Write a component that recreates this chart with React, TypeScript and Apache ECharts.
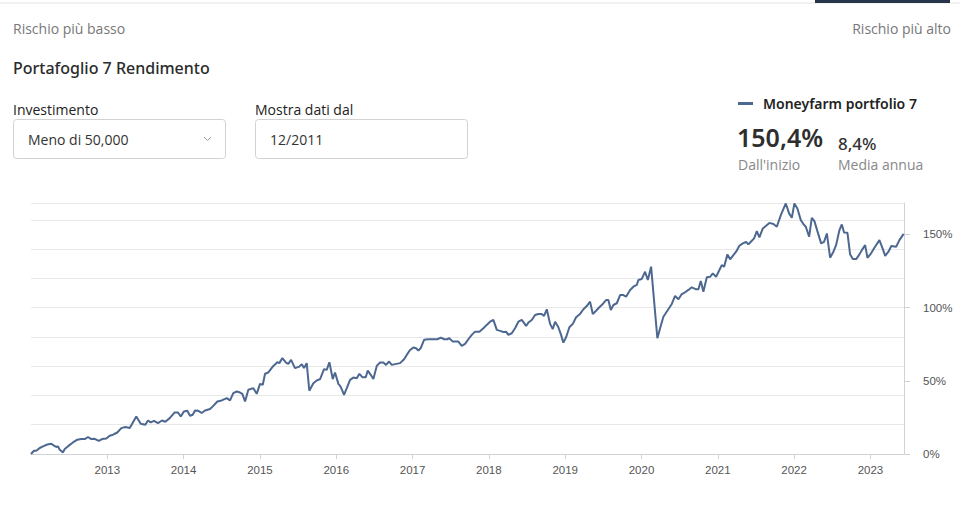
import React, { useEffect, useRef } from "react";
import * as echarts from "echarts";

// Time positions as decimal years
const timeYears: number[] = [
  2012.0, 2012.039, 2012.069, 2012.114, 2012.157, 2012.214, 2012.266, 2012.301, 2012.332, 2012.354,
  2012.376, 2012.419, 2012.442, 2012.494, 2012.55, 2012.607, 2012.659, 2012.704, 2012.747, 2012.79,
  2012.835, 2012.887, 2012.931, 2012.987, 2013.031, 2013.075, 2013.131, 2013.183, 2013.236, 2013.294,
  2013.38, 2013.438, 2013.498, 2013.533, 2013.569, 2013.612, 2013.664, 2013.717, 2013.76, 2013.818,
  2013.883, 2013.927, 2013.962, 2014.005, 2014.048, 2014.084, 2014.119, 2014.149, 2014.193, 2014.237,
  2014.28, 2014.346, 2014.389, 2014.442, 2014.499, 2014.565, 2014.608, 2014.651, 2014.696, 2014.739,
  2014.769, 2014.805, 2014.848, 2014.914, 2014.958, 2015.001, 2015.037, 2015.067, 2015.11, 2015.176,
  2015.228, 2015.254, 2015.294, 2015.342, 2015.372, 2015.408, 2015.46, 2015.516, 2015.548, 2015.578,
  2015.613, 2015.647, 2015.7, 2015.744, 2015.788, 2015.84, 2015.875, 2015.91, 2015.954, 2015.984,
  2016.028, 2016.05, 2016.072, 2016.102, 2016.138, 2016.181, 2016.224, 2016.269, 2016.303, 2016.342,
  2016.387, 2016.413, 2016.452, 2016.486, 2016.531, 2016.574, 2016.617, 2016.653, 2016.692, 2016.727,
  2016.771, 2016.836, 2016.889, 2016.924, 2016.967, 2017.01, 2017.046, 2017.076, 2017.107, 2017.151,
  2017.207, 2017.273, 2017.325, 2017.37, 2017.413, 2017.456, 2017.482, 2017.527, 2017.57, 2017.6,
  2017.645, 2017.688, 2017.731, 2017.776, 2017.819, 2017.876, 2017.928, 2017.972, 2018.016, 2018.059,
  2018.104, 2018.147, 2018.19, 2018.225, 2018.256, 2018.3, 2018.343, 2018.387, 2018.431, 2018.488,
  2018.518, 2018.562, 2018.606, 2018.649, 2018.693, 2018.723, 2018.759, 2018.802, 2018.837, 2018.868,
  2018.911, 2018.946, 2018.976, 2019.012, 2019.055, 2019.1, 2019.143, 2019.195, 2019.239, 2019.283,
  2019.326, 2019.362, 2019.405, 2019.448, 2019.493, 2019.536, 2019.566, 2019.598, 2019.632, 2019.676,
  2019.72, 2019.763, 2019.798, 2019.851, 2019.894, 2019.938, 2019.959, 2020.004, 2020.047, 2020.083,
  2020.126, 2020.208, 2020.244, 2020.287, 2020.339, 2020.397, 2020.44, 2020.484, 2020.528, 2020.571,
  2020.615, 2020.659, 2020.716, 2020.746, 2020.777, 2020.811, 2020.856, 2020.899, 2020.934, 2020.978,
  2021.021, 2021.052, 2021.083, 2021.126, 2021.161, 2021.204, 2021.24, 2021.283, 2021.328, 2021.371,
  2021.401, 2021.446, 2021.476, 2021.511, 2021.545, 2021.59, 2021.633, 2021.676, 2021.729, 2021.773,
  2021.826, 2021.891, 2021.934, 2021.97, 2022.004, 2022.043, 2022.088, 2022.122, 2022.153, 2022.197,
  2022.232, 2022.266, 2022.305, 2022.354, 2022.393, 2022.429, 2022.472, 2022.515, 2022.55, 2022.594,
  2022.625, 2022.655, 2022.699, 2022.734, 2022.769, 2022.813, 2022.856, 2022.887, 2022.931, 2022.961,
  2023.009, 2023.052, 2023.118, 2023.163, 2023.193, 2023.236, 2023.274, 2023.337, 2023.38, 2023.435,
];

// Cumulative return (%) at each position
const returnPct: number[] = [
  0, 2.2, 2.2, 4.1, 5.2, 6.5, 7.0, 5.7, 4.8, 5.2,
  2.9, 1.1, 3.4, 5.7, 7.9, 9.8, 10.2, 10.2, 11.6, 10.2,
  10.4, 8.9, 10.2, 10.6, 12.5, 13.2, 14.7, 17.7, 18.4, 17.7,
  25.6, 20.7, 20.0, 22.9, 21.6, 22.7, 21.1, 22.9, 22.0, 24.5,
  28.4, 28.4, 25.6, 29.1, 29.5, 26.1, 26.8, 29.7, 29.5, 28.0,
  29.7, 30.7, 32.9, 35.9, 36.6, 38.2, 36.6, 41.6, 42.7, 42.0,
  41.1, 35.9, 43.9, 45.0, 41.1, 47.9, 47.3, 54.8, 55.7, 60.2,
  62.7, 62.1, 65.5, 62.5, 61.6, 64.3, 58.7, 59.7, 61.4, 58.7,
  62.1, 43.2, 48.4, 50.2, 51.2, 58.0, 57.5, 62.7, 51.2, 55.7,
  47.9, 46.6, 44.3, 40.4, 45.0, 50.7, 52.2, 51.8, 54.8, 52.5,
  52.5, 57.0, 54.1, 51.2, 60.2, 62.5, 62.5, 60.9, 63.2, 60.9,
  61.4, 62.1, 64.8, 67.7, 71.1, 72.7, 72.3, 70.7, 72.3, 78.0,
  78.4, 78.4, 78.4, 79.5, 78.4, 78.4, 79.1, 76.8, 76.8, 76.8,
  73.9, 75.2, 78.4, 81.4, 83.6, 83.6, 85.9, 88.2, 90.4, 91.6,
  84.8, 84.1, 83.4, 83.6, 81.4, 82.5, 85.9, 90.4, 91.6, 87.5,
  89.8, 91.6, 95.0, 95.7, 95.7, 94.3, 98.9, 88.9, 85.3, 90.4,
  86.6, 81.4, 76.1, 79.8, 86.6, 88.9, 93.4, 95.7, 98.9, 101.1,
  104.1, 95.7, 97.9, 100.3, 102.5, 105.2, 105.2, 98.4, 101.8, 103.0,
  108.6, 108.6, 107.5, 112.1, 114.3, 115.5, 118.9, 119.6, 124.5, 118.9,
  128.0, 79.1, 85.9, 93.8, 97.9, 102.5, 108.0, 105.7, 109.3, 110.5,
  112.1, 113.9, 112.5, 112.5, 118.2, 110.9, 120.7, 121.1, 123.4, 121.1,
  125.7, 129.1, 128.0, 136.4, 133.0, 135.9, 138.2, 142.3, 143.9, 145.0,
  143.2, 145.7, 147.3, 152.3, 148.0, 154.1, 155.9, 157.9, 157.1, 155.3,
  163.2, 171.2, 164.4, 161.4, 171.2, 167.8, 159.8, 157.1, 155.3, 148.5,
  161.4, 159.1, 152.3, 143.9, 145.0, 150.7, 134.1, 138.2, 142.7, 153.0,
  156.8, 151.4, 151.1, 136.4, 133.2, 133.2, 136.4, 139.3, 142.7, 134.1,
  137.1, 140.9, 146.1, 140.0, 135.4, 138.2, 142.1, 141.6, 146.1, 150.4,
];

const yearTicks: number[] = [2013, 2014, 2015, 2016, 2017, 2018, 2019, 2020, 2021, 2022, 2023];
const percentTicks: number[] = [0, 50, 100, 150];
const seriesName = "Moneyfarm portfolio 7";
const totalReturn = "150,4%";
const annualReturn = "8,4%";

const LINE_COLOR = "#4d6890";
const SANS = "'Open Sans', 'Noto Sans', sans-serif";
const HEAD = "'Noto Sans', 'Open Sans', sans-serif";

export default function App() {
  const ref = useRef<HTMLDivElement>(null);

  useEffect(() => {
    if (!ref.current) return;
    const chart = echarts.init(ref.current, undefined, { renderer: "svg" });
    const data = timeYears.map((t, i) => [t, returnPct[i]]);

    const txt = (text: string, x: number, y: number, font: string, fill: string, align = "left") => ({
      type: "text",
      x,
      y,
      style: { text, font, fill, textAlign: align, textVerticalAlign: "middle" },
    });

    chart.setOption({
      animation: false,
      backgroundColor: "#ffffff",
      grid: { left: 31, right: 56, top: 203, bottom: 51, containLabel: false, outerBoundsMode: "none" },
      xAxis: {
        type: "value",
        min: 2012,
        max: 2023.44,
        axisLine: { show: true, lineStyle: { color: "#cfd3d8", width: 1 } },
        axisTick: { show: true, customValues: yearTicks, length: 5, lineStyle: { color: "#cfd3d8" } },
        axisLabel: {
          customValues: yearTicks,
          formatter: (v: number) => String(Math.round(v)),
          color: "#555",
          fontSize: 11.5,
          fontFamily: "'Liberation Sans', Arial, sans-serif",
          margin: 10,
        },
        splitLine: { show: false },
      },
      yAxis: [
        {
          type: "value",
          position: "right",
          min: 0,
          max: 171.5,
          interval: 50,
          axisLine: { show: true, lineStyle: { color: "#cfd3d8", width: 1 } },
          axisTick: { show: true, customValues: percentTicks, length: 6, lineStyle: { color: "#cfd3d8" } },
          axisLabel: {
            customValues: percentTicks,
            formatter: (v: number) => `${v}%`,
            color: "#555",
            fontSize: 11.5,
            fontFamily: "'Liberation Sans', Arial, sans-serif",
            margin: 19,
          },
          splitLine: { show: false },
        },
        {
          type: "value",
          position: "right",
          min: 0,
          max: 171.5,
          interval: 20,
          axisLine: { show: false },
          axisTick: { show: false },
          axisLabel: { show: false },
          splitLine: { show: true, lineStyle: { color: "#e8e8e8", width: 1 } },
        },
      ],
      series: [
        {
          name: seriesName,
          type: "line",
          yAxisIndex: 0,
          data,
          showSymbol: false,
          symbol: "none",
          lineStyle: { color: LINE_COLOR, width: 2 },
          itemStyle: { color: LINE_COLOR },
        },
      ],
      graphic: [
        { type: "line", shape: { x1: 0, y1: 3, x2: 960, y2: 3 }, style: { stroke: "#e4e4e4", lineWidth: 1 } },
        { type: "rect", shape: { x: 815, y: 0, width: 135, height: 3 }, style: { fill: "#27354a" } },
        txt("Rischio più basso", 13, 28, `14px ${SANS}`, "#777"),
        txt("Rischio più alto", 951, 28, `14px ${SANS}`, "#777", "right"),
        txt("Portafoglio 7 Rendimento", 13, 68, `500 16px ${HEAD}`, "#2b2b2b"),
        txt("Investimento", 13, 109, `14px ${SANS}`, "#222"),
        txt("Mostra dati dal", 255, 109, `14px ${SANS}`, "#222"),
        {
          type: "rect",
          shape: { x: 13.5, y: 119.5, width: 212, height: 39, r: 3 },
          style: { fill: "#fff", stroke: "#d2d2d2", lineWidth: 1 },
        },
        {
          type: "rect",
          shape: { x: 255.5, y: 119.5, width: 212, height: 39, r: 3 },
          style: { fill: "#fff", stroke: "#d2d2d2", lineWidth: 1 },
        },
        txt("Meno di 50,000", 28, 139, `14px ${SANS}`, "#333"),
        {
          type: "polyline",
          shape: { points: [[204, 137], [207.5, 140.5], [211, 137]] },
          style: { stroke: "#999", lineWidth: 1, fill: null },
        },
        txt("12/2011", 270, 139, `14px ${SANS}`, "#333"),
        { type: "rect", shape: { x: 738, y: 102, width: 15, height: 3 }, style: { fill: LINE_COLOR } },
        txt(seriesName, 763, 103, `600 14px ${HEAD}`, "#222"),
        txt(totalReturn, 737, 137, `600 25px ${HEAD}`, "#2e2e2e"),
        txt(annualReturn, 838, 143, `500 17px ${HEAD}`, "#333"),
        txt("Dall'inizio", 738, 164, `14px ${SANS}`, "#888"),
        txt("Media annua", 838, 164, `14px ${SANS}`, "#888"),
      ],
    });

    return () => chart.dispose();
  }, []);

  return (
    <div
      ref={ref}
      style={{ position: "absolute", left: 0, top: 0, width: 960, height: 505, background: "#fff" }}
    />
  );
}
